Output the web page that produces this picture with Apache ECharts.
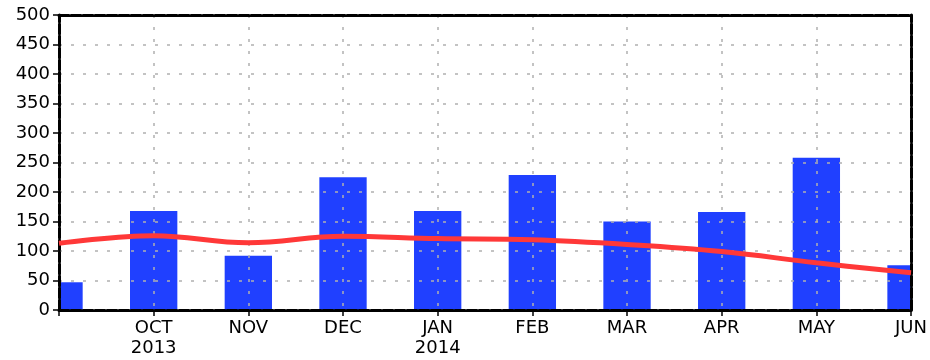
<!DOCTYPE html>
<html>
<head>
<meta charset="utf-8">
<script src="https://cdn.jsdelivr.net/npm/echarts@6/dist/echarts.min.js"></script>
<style>
  html, body { margin: 0; padding: 0; background: #ffffff; }
  #chart { width: 930px; height: 360px; }
</style>
</head>
<body>
<div id="chart"></div>
<script>
// month positions: 0 = SEP 2013 ... 9 = JUN 2014
const monthPos = [0, 1, 2, 3, 4, 5, 6, 7, 8, 9]
const tickLabels = ['', 'OCT\n2013', 'NOV', 'DEC', 'JAN\n2014', 'FEB', 'MAR', 'APR', 'MAY', 'JUN']
// monthly totals (bars)
const barValues = [47, 168, 92, 225, 168, 229, 150, 166, 258, 76]
// climatology curve (red line)
const lineValues = [113, 126, 114, 125, 121, 119, 111, 99, 80, 63]

const chart = echarts.init(document.getElementById('chart'))

const labelFont = { color: '#000', fontFamily: 'DejaVu Sans', fontSize: 18 }
const frameLine = { show: true, onZero: false, lineStyle: { color: '#000', width: 3, type: [10, 2] } }
const dotted = { show: true, lineStyle: { color: '#b0b0b0', width: 1.5, type: [3, 9] } }

// bars drawn as a custom series so they can be cut at the frame edges
function renderBar(params, api) {
  const x = api.value(0)
  const top = api.coord([x, api.value(1)])
  const base = api.coord([x, 0])
  const halfWidth = api.size([0.5, 0])[0] * 0.5
  const rect = echarts.graphic.clipRectByRect(
    { x: top[0] - halfWidth, y: top[1], width: halfWidth * 2, height: base[1] - top[1] },
    { x: params.coordSys.x, y: params.coordSys.y, width: params.coordSys.width, height: params.coordSys.height }
  )
  if (!rect) return
  return { type: 'rect', shape: rect, style: { fill: '#2040ff' } }
}

chart.setOption({
  animation: false,
  grid: { left: 59, right: 18, top: 15, bottom: 50, containLabel: false },
  xAxis: [
    {
      type: 'value',
      min: 0,
      max: 9,
      interval: 1,
      z: 10,
      axisLine: frameLine,
      axisTick: { show: true, length: 6, lineStyle: { color: '#000', width: 1.5 } },
      axisLabel: {
        ...labelFont,
        lineHeight: 20,
        margin: 8,
        showMinLabel: true,
        showMaxLabel: true,
        formatter: (v) => tickLabels[Math.round(v)] || ''
      },
      splitLine: dotted
    },
    {
      type: 'value',
      position: 'top',
      min: 0,
      max: 9,
      z: 10,
      axisLine: frameLine,
      axisTick: { show: false },
      axisLabel: { show: false },
      splitLine: { show: false }
    }
  ],
  yAxis: [
    {
      type: 'value',
      min: 0,
      max: 500,
      interval: 50,
      z: 10,
      axisLine: frameLine,
      axisTick: { show: true, length: 6, lineStyle: { color: '#000', width: 1.5 } },
      axisLabel: { ...labelFont, margin: 9 },
      splitLine: dotted
    },
    {
      type: 'value',
      position: 'right',
      min: 0,
      max: 500,
      z: 10,
      axisLine: frameLine,
      axisTick: { show: false },
      axisLabel: { show: false },
      splitLine: { show: false }
    }
  ],
  series: [
    {
      name: 'Monthly',
      type: 'custom',
      z: 2,
      renderItem: renderBar,
      encode: { x: 0, y: 1 },
      data: monthPos.map((x, i) => [x, barValues[i]])
    },
    {
      name: 'Normal',
      type: 'line',
      smooth: 0.4,
      showSymbol: false,
      z: 20,
      lineStyle: { color: '#ff3838', width: 5 },
      data: monthPos.map((x, i) => [x, lineValues[i]])
    }
  ]
})
</script>
</body>
</html>
